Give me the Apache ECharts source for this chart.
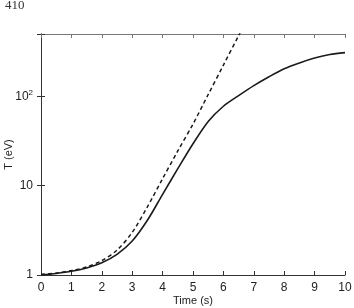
<!DOCTYPE html>
<html>
<head>
<meta charset="utf-8">
<script src="https://cdn.jsdelivr.net/npm/echarts@6/dist/echarts.min.js"></script>
<style>
  html, body { margin: 0; padding: 0; background: #fff; }
  #chart { width: 354px; height: 308px; }
</style>
</head>
<body>
<div id="chart"></div>
<script>
// solid curve (simulation)
var solidTime = [0, 0.5, 1, 1.5, 2, 2.5, 3, 3.5, 4, 4.5, 5, 5.5, 6, 6.5, 7, 7.5, 8, 8.5, 9, 9.5, 10];
var solidT = [1.0, 1.04, 1.1, 1.2, 1.37, 1.7, 2.4, 4.1, 8.0, 15.5, 29.5, 52.5, 77.6, 102, 132, 166, 204, 237, 269, 295, 309];
// dashed curve
var dashTime = [0, 0.5, 1, 1.5, 2, 2.5, 3, 3.5, 4, 4.5, 5, 5.5, 6, 6.5, 6.7];
var dashT = [1.02, 1.05, 1.12, 1.23, 1.45, 1.9, 3.0, 5.8, 12, 24.5, 49, 105, 224, 479, 645];
var xTicks = [0, 1, 2, 3, 4, 5, 6, 7, 8, 9, 10];

var solidData = [];
for (var i = 0; i < solidTime.length; i++) solidData.push([solidTime[i], solidT[i]]);
var dashData = [];
for (var j = 0; j < dashTime.length; j++) dashData.push([dashTime[j], dashT[j]]);

var myChart = echarts.init(document.getElementById('chart'));
var lineCol = '#333';
var txt = '#222';
var font = 'Liberation Sans, Arial, sans-serif';

function yLabel(v) {
  if (Math.abs(v - 1) < 1e-6) return '1';
  if (Math.abs(v - 10) < 1e-6) return '10';
  if (Math.abs(v - 100) < 1e-6) return '{b|10}{s|2}';
  return '';
}

var option = {
  animation: false,
  title: {
    text: '410',
    left: 0,
    top: -6,
    textStyle: { fontFamily: 'Liberation Serif, serif', fontSize: 13, fontWeight: 'normal', color: '#333' }
  },
  grid: { left: 41, right: 9, top: 34, bottom: 33, outerBoundsMode: 'none', containLabel: false },
  xAxis: [{
    type: 'value',
    min: 0, max: 10, interval: 1,
    name: 'Time (s)',
    nameLocation: 'middle',
    nameGap: 20,
    nameMoveOverlap: false,
    nameTextStyle: { fontFamily: font, fontSize: 11, color: txt },
    axisLine: { lineStyle: { color: lineCol, width: 1 } },
    axisTick: { inside: true, length: 4, lineStyle: { color: lineCol } },
    axisLabel: {
      margin: 7, fontFamily: font, fontSize: 12, color: txt,
      formatter: function (v) { return xTicks.indexOf(v) >= 0 ? String(v) : ''; }
    },
    splitLine: { show: false }
  }, {
    type: 'value',
    position: 'top',
    min: 0, max: 10, interval: 1,
    axisLine: { show: true, lineStyle: { color: '#777', width: 1 } },
    axisTick: { inside: true, length: 4, lineStyle: { color: '#777' } },
    axisLabel: { show: false },
    splitLine: { show: false }
  }],
  yAxis: [{
    type: 'log',
    logBase: 10,
    min: 1, max: 500,
    name: 'T (eV)',
    nameLocation: 'middle',
    nameGap: 27,
    nameMoveOverlap: false,
    nameTextStyle: { fontFamily: font, fontSize: 11, color: txt },
    axisLine: { show: true, lineStyle: { color: lineCol, width: 1 } },
    axisTick: { inside: true, length: 4, lineStyle: { color: lineCol } },
    axisLabel: {
      margin: 8, fontFamily: font, fontSize: 12, color: txt,
      formatter: yLabel,
      rich: {
        b: { fontFamily: font, fontSize: 12, color: txt },
        s: { fontFamily: font, fontSize: 8, color: txt, verticalAlign: 'top', padding: [0, 0, 8, 0] }
      }
    },
    splitLine: { show: false }
  }, {
    type: 'log',
    logBase: 10,
    position: 'right',
    min: 1, max: 500,
    axisLine: { show: true, lineStyle: { color: lineCol, width: 1 } },
    axisTick: { inside: true, length: 4, lineStyle: { color: lineCol } },
    axisLabel: { show: false },
    splitLine: { show: false }
  }],
  series: [{
    name: 'solid',
    type: 'line',
    data: solidData,
    smooth: 0.3,
    symbol: 'none',
    xAxisIndex: 0, yAxisIndex: 0,
    lineStyle: { color: '#1a1a1a', width: 1.6 }
  }, {
    name: 'dashed',
    type: 'line',
    data: dashData,
    smooth: 0.3,
    symbol: 'none',
    xAxisIndex: 1, yAxisIndex: 1,
    lineStyle: { color: '#1a1a1a', width: 1.5, type: [4, 3] }
  }]
};
option && myChart.setOption(option);
</script>
</body>
</html>
